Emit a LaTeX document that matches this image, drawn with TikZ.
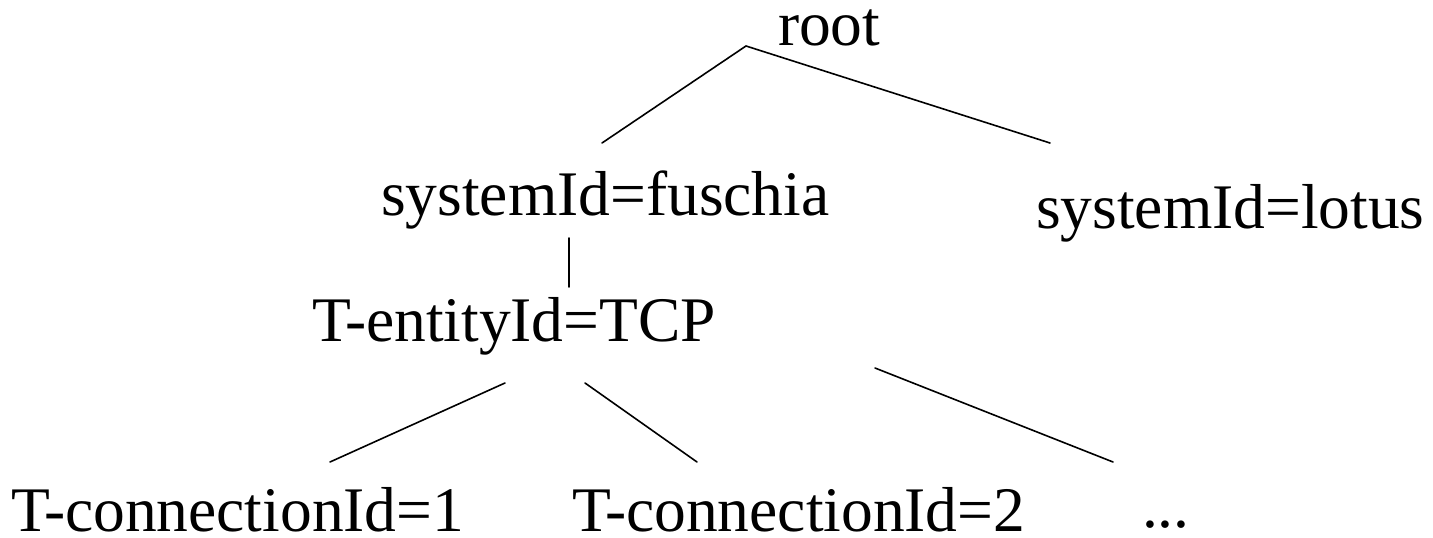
\documentclass[tikz,border=0pt]{standalone}
\usepackage{fontspec}
\setmainfont{Liberation Serif}
\begin{document}
\begin{tikzpicture}[x=1pt,y=1pt,
  label/.style={anchor=base west,inner sep=0pt,outer sep=0pt,font=\fontsize{63.5}{70}\selectfont},
  edge/.style={line width=1.6pt,line cap=round}]
\useasboundingbox (0,0) rectangle (1433,538);

% tree labels
\node[label] (root)  at (778,492) {root};
\node[label] (fus)   at (381,322) {systemId=fuschia};
\node[label] (lotus) at (1036,309) {systemId=lotus};
\node[label] (tcp)   at (312,196) {T-entityId=TCP};
\node[label] (c1)    at (11,6)    {T-connectionId=1};
\node[label] (c2)    at (572,6)   {T-connectionId=2};
\node[label] (more)  at (1142,10) {...};

% connector end points
\coordinate (rootP) at (746,492);
\coordinate (fusT)  at (602,395);
\coordinate (lotT)  at (1050,395);
\coordinate (fusB)  at (569,300);
\coordinate (tcpT)  at (569,251);
\coordinate (tcpL)  at (505,155);
\coordinate (c1T)   at (330,76);
\coordinate (tcpR)  at (585,155);
\coordinate (c2T)   at (697,76);
\coordinate (tcpF)  at (875,170);
\coordinate (moreT) at (1113,76);

% connectors
\draw[edge] (fusT) -- (rootP) -- (lotT);
\draw[edge] (fusB) -- (tcpT);
\draw[edge] (tcpL) -- (c1T);
\draw[edge] (tcpR) -- (c2T);
\draw[edge] (tcpF) -- (moreT);
\end{tikzpicture}
\end{document}
